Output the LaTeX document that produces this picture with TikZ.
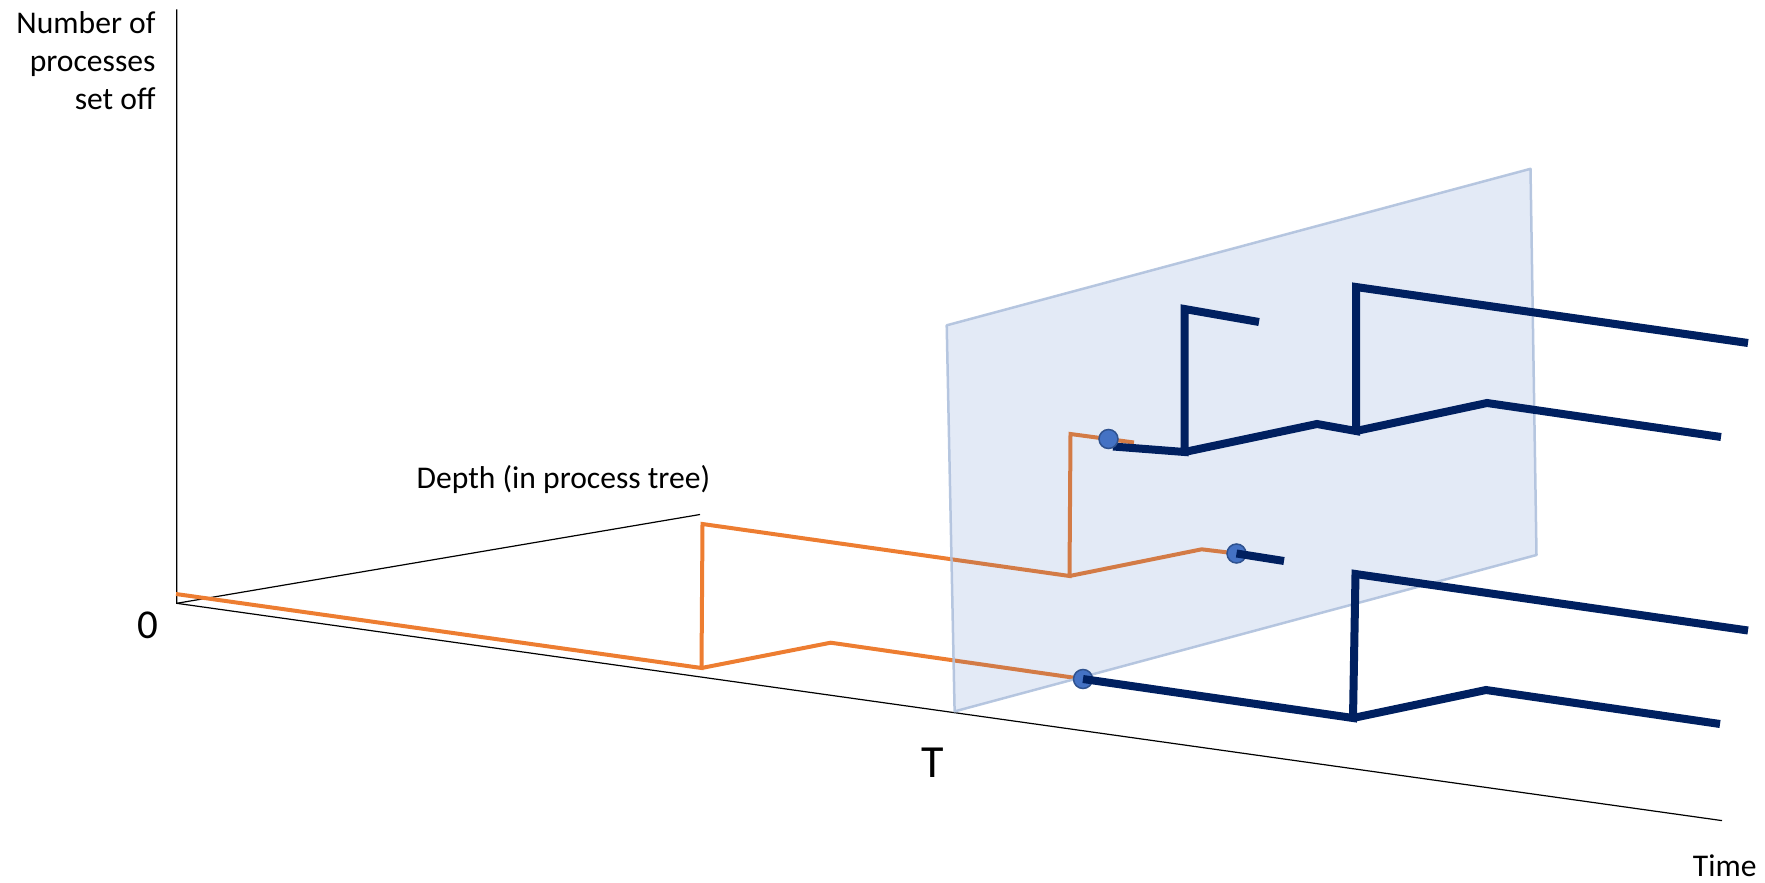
\documentclass[tikz,border=0pt]{standalone}
\usepackage{fontspec}
\setmainfont{Carlito}
\definecolor{orng}{HTML}{ED7D31}
\definecolor{navy}{HTML}{002060}
\definecolor{planefill}{HTML}{4472C4}
\definecolor{planeedge}{HTML}{AFC1DD}
\definecolor{dotfill}{HTML}{4472C4}
\definecolor{dotedge}{HTML}{2F528F}
\tikzset{
  axis/.style={black, line width=1.2pt},
  orangeline/.style={orng, line width=4pt, line join=miter},
  navyline/.style={navy, line width=8pt, line join=miter},
  plane/.style={fill=planefill, fill opacity=0.15, draw=planeedge, draw opacity=0.9, line width=2.5pt, line join=round},
  procdot/.style={circle, fill=dotfill, draw=dotedge, line width=1.5pt, minimum size=19pt, inner sep=0pt},
  lbl/.style={font=\fontsize{31.6}{38.5}\selectfont, inner sep=0pt}
}
\begin{document}
\begin{tikzpicture}[x=1pt,y=-1pt]
\useasboundingbox (0,0) rectangle (1765,883);
% axes
\coordinate (O) at (176.7,603.3);
\coordinate (Ytop) at (176.7,9.5);
\coordinate (Dend) at (700,514.5);
\coordinate (Tend) at (1722,820.6);
\draw[axis] (Ytop) -- (O) -- (Tend);
\draw[axis] (O) -- (Dend);
% labels
\node[lbl, align=right, anchor=base east] (ylab) at (155.7,110) {Number of\\processes\\set off};
\node[lbl, anchor=base west] (dlab) at (416.5,488) {Depth (in process tree)};
\node[lbl, anchor=base west] (tlab) at (1692.7,876.7) {Time};
\node[font=\fontsize{41}{48}\selectfont, inner sep=0pt] (zero) at (147.5,625.5) {0};
\node[font=\fontsize{46}{52}\selectfont, inner sep=0pt] (Tlab) at (932.5,762.3) {T};
% orange path corners
\coordinate (a0) at (176,594);
\coordinate (a1) at (701.5,668);
\coordinate (a2) at (702.5,524);
\coordinate (a3) at (1069.5,576);
\coordinate (a4) at (1070.5,434);
\coordinate (a5) at (1201.7,549.3);
\coordinate (b1) at (830.7,642.7);
\coordinate (c1) at (1108.5,439);
\coordinate (c2) at (1236.5,553.5);
\coordinate (c3) at (1083,679);
\coordinate (c1o) at (1134,442.5);
\draw[orangeline] (a0) -- (a1) -- (a2) -- (a3) -- (a4) -- (c1o);
\draw[orangeline] (a3) -- (a5) -- (c2);
\draw[orangeline] (a1) -- (b1) -- (c3);
% plane
\coordinate (P1) at (946.7,325.3);
\coordinate (P2) at (1530.5,168.8);
\coordinate (P3) at (1536.5,555);
\coordinate (P4) at (954.6,711.4);
\draw[plane] (P1) -- (P2) -- (P3) -- (P4) -- cycle;
% dots
\node[procdot] (d2) at (c2) {};
\node[procdot] (d3) at (c3) {};
% navy paths
\coordinate (n0) at (1113,446.5);
\coordinate (n1) at (1184.5,452);
\coordinate (n2) at (1184.5,309);
\coordinate (n3) at (1259,322);
\coordinate (n4) at (1317,424);
\coordinate (n5) at (1356,431);
\coordinate (n6) at (1356,287);
\coordinate (n7) at (1748,343);
\coordinate (n8) at (1487,403);
\coordinate (n9) at (1721,437);
\coordinate (e2) at (1284,561);
\coordinate (m1) at (1353,718);
\coordinate (m2) at (1355.5,574);
\coordinate (m3) at (1748,630.5);
\coordinate (m4) at (1486,690);
\coordinate (m5) at (1720,724);
\draw[navyline] (n0) -- (n1) -- (n2) -- (n3);
\draw[navyline] (n1) -- (n4) -- (n5) -- (n6) -- (n7);
\draw[navyline] (n5) -- (n8) -- (n9);
\draw[navyline] (d2.center) -- (e2);
\draw[navyline] (d3.center) -- (m1) -- (m2) -- (m3);
\draw[navyline] (m1) -- (m4) -- (m5);
\node[procdot] (d1) at (c1) {};
\end{tikzpicture}
\end{document}
